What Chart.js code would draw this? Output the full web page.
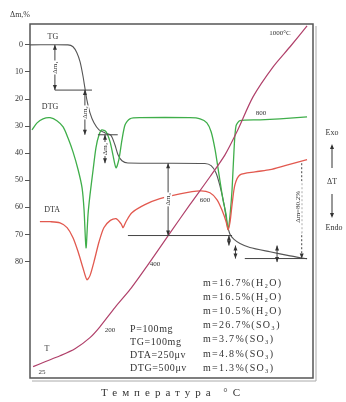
<!DOCTYPE html>
<html>
<head>
<meta charset="utf-8">
<script src="https://cdn.jsdelivr.net/npm/chart.js@4"></script>
<style>
  html, body { margin: 0; padding: 0; background: #fff; }
  canvas { display: block; }
</style>
</head>
<body>
<canvas id="thermo" width="346" height="402"></canvas>
<script>
// Mass loss steps (TG), %
const massLoss = [16.7, 16.5, 10.5, 26.7, 3.7, 4.8, 1.3];
const lossGas = ['H₂O', 'H₂O', 'H₂O', 'SO₃', 'SO₃', 'SO₃', 'SO₃'];
const yTicks = [0, 10, 20, 30, 40, 50, 60, 70, 80];

// TG curve
const tgX = [0, 13.4, 15.2, 16.6, 17.7, 18.7, 19.4, 20.1, 21.2, 22.6, 24.4, 26.5, 28.6, 30.0, 31.1, 32.5, 34.6, 61.8, 64.0, 65.7, 67.1, 68.6, 69.6, 70.7, 72.1, 74.2, 77.7, 84.8, 91.9, 97.9];
const tgY = [0, 0, 0.7, 3.0, 6.3, 11.4, 15.9, 20.3, 25.1, 28.8, 31.4, 32.5, 33.4, 36.9, 40.6, 42.8, 43.6, 43.8, 44.6, 47.2, 52.0, 59.0, 65.7, 70.0, 71.8, 73.3, 74.8, 76.4, 77.9, 79.0];

// DTG curve
const dtgX = [0.7, 2.5, 4.6, 7.1, 9.5, 11.7, 13.4, 15.2, 17.0, 18.4, 19.1, 19.8, 20.5, 21.2, 22.3, 23.3, 24.4, 25.4, 26.9, 28.3, 29.3, 30.4, 31.4, 32.5, 33.6, 35.3, 38.9, 56.5, 60.1, 62.5, 64.0, 65.4, 66.8, 68.2, 69.3, 70.0, 70.7, 71.4, 72.1, 72.8, 74.2, 81.3, 88.3, 97.9];
const dtgY = [31.4, 28.8, 27.3, 26.9, 28.0, 30.3, 34.3, 39.5, 46.1, 52.8, 60.9, 74.9, 62.7, 55.4, 46.1, 38.0, 33.2, 31.4, 32.1, 35.8, 40.6, 45.4, 42.4, 35.1, 29.5, 27.3, 26.9, 26.9, 27.3, 28.8, 32.1, 38.7, 48.0, 57.2, 62.7, 68.3, 62.7, 53.5, 38.7, 29.9, 28.0, 27.7, 27.3, 26.6];

// DTA curve
const dtaX = [3.5, 7.1, 10.6, 13.1, 15.2, 17.0, 18.7, 20.1, 21.2, 22.6, 24.4, 26.1, 28.3, 30.4, 32.2, 32.9, 33.9, 36.0, 40.6, 45.9, 53.0, 60.1, 63.6, 66.1, 67.8, 69.3, 70.0, 70.7, 71.4, 72.4, 74.2, 79.5, 84.8, 90.1, 97.9];
const dtaY = [65.3, 65.3, 65.7, 67.5, 71.2, 76.4, 82.3, 86.7, 85.2, 80.1, 72.7, 67.5, 64.9, 64.2, 66.1, 67.5, 65.3, 62.0, 59.0, 56.8, 55.0, 53.9, 54.6, 57.2, 60.9, 65.3, 68.3, 65.3, 59.0, 51.7, 48.0, 46.9, 46.1, 44.6, 42.4];

// Temperature curve
const tX = [1.1, 5.3, 10.6, 15.9, 21.2, 24.7, 30.0, 35.3, 42.4, 49.5, 56.5, 63.6, 68.9, 73.1, 78.8, 85.9, 91.9, 97.9];
const tY = [118.8, 117.0, 114.8, 112.2, 108.1, 104.1, 97.0, 90.4, 80.1, 69.4, 59.0, 48.7, 40.6, 32.1, 19.2, 8.1, 0.7, -7.0];
const tempLabels = ['25', '200', '400', '600', '800', '1000°C'];

const conditions = ['P=100mg', 'TG=100mg', 'DTA=250μv', 'DTG=500μv'];

// cumulative mass loss after each step
const levels = [];
massLoss.reduce((s, m) => { s += m; levels.push(+s.toFixed(1)); return s; }, 0);

const pts = (xs, ys) => xs.map((v, i) => ({ x: v, y: ys[i] }));
const SERIF = '"Liberation Serif", "DejaVu Serif", serif';

// annotation layout (data units)
const stepLines = [
    { lv: 0, x0: 8.8, x1: 21.9 },
    { lv: 1, x0: 24.0, x1: 31.0 },
    { lv: 3, x0: 34.6, x1: 71.4 },
    { lv: 5, x0: 75.9, x1: 97.9 }
];
const stepArrows = [
    { x: 8.8, from: null, to: 0, label: 'Δm₁' },
    { x: 19.4, from: 0, to: 1, label: 'Δm₂' },
    { x: 26.5, from: 1, to: 2, label: 'Δm₃' },
    { x: 48.8, from: 2, to: 3, label: 'Δm₄' },
    { x: 70.3, from: 3, to: 4, label: '' },
    { x: 72.6, from: 4, to: 5, label: '' },
    { x: 87.3, from: 4, to: 6, label: '' }
];
const tempLabelPos = [[4.2, 120.7], [28.3, 105.2], [44.2, 80.8], [61.8, 57.2], [81.6, 25.1], [88.3, -4.4]];

function arrowHead(ctx, x, y, dir) {
    ctx.beginPath();
    ctx.moveTo(x, y);
    ctx.lineTo(x - 2, y - 5 * dir);
    ctx.lineTo(x + 2, y - 5 * dir);
    ctx.closePath();
    ctx.fill();
}

const annotations = {
    id: 'annotations',
    afterDatasetsDraw(chart) {
        const { ctx, scales: { x, y } } = chart;
        const px = v => x.getPixelForValue(v);
        const py = v => y.getPixelForValue(v);
        const lv = i => (i === null ? 0 : levels[i]);
        ctx.save();
        ctx.strokeStyle = '#444';
        ctx.fillStyle = '#333';
        ctx.lineWidth = 1;

        // step level lines
        stepLines.forEach(s => {
            ctx.beginPath();
            ctx.moveTo(px(s.x0), py(levels[s.lv]));
            ctx.lineTo(px(s.x1), py(levels[s.lv]));
            ctx.stroke();
        });

        // double arrows for each mass loss
        ctx.font = '7px ' + SERIF;
        stepArrows.forEach(s => {
            const X = px(s.x), y0 = py(lv(s.from)), y1 = py(lv(s.to));
            ctx.beginPath();
            ctx.moveTo(X, y0);
            ctx.lineTo(X, y1);
            ctx.stroke();
            arrowHead(ctx, X, y0, -1);
            arrowHead(ctx, X, y1, 1);
            if (s.label) {
                const m = (y0 + y1) / 2;
                ctx.save();
                ctx.translate(X, m);
                ctx.rotate(-Math.PI / 2);
                ctx.fillStyle = '#fff';
                ctx.fillRect(-7, -4, 14, 8);
                ctx.fillStyle = '#333';
                ctx.textAlign = 'center';
                ctx.textBaseline = 'middle';
                ctx.fillText(s.label, 0, 0);
                ctx.restore();
            }
        });

        // total mass loss bracket
        const bx = px(94.6), btop = py(levels[2]), bbot = py(levels[5]);
        ctx.setLineDash([2, 2]);
        ctx.beginPath();
        ctx.moveTo(bx + 4, btop);
        ctx.lineTo(bx + 4, bbot);
        ctx.stroke();
        ctx.setLineDash([]);
        arrowHead(ctx, bx + 4, bbot, 1);
        ctx.save();
        ctx.translate(bx, (btop + bbot) / 2 - 4);
        ctx.rotate(-Math.PI / 2);
        ctx.fillStyle = '#fff';
        ctx.fillRect(-26, -5, 52, 9);
        ctx.fillStyle = '#333';
        ctx.textAlign = 'center';
        ctx.textBaseline = 'middle';
        ctx.fillText('Δm=' + levels[6] + '%', 0, 0);
        ctx.restore();

        // temperature marks
        ctx.font = '7px ' + SERIF;
        ctx.textAlign = 'center';
        ctx.textBaseline = 'middle';
        tempLabels.forEach((t, i) => {
            ctx.fillText(t, px(tempLabelPos[i][0]), py(tempLabelPos[i][1]));
        });

        // curve names
        ctx.font = '8px ' + SERIF;
        ctx.fillText('TG', px(8.1), py(-3));
        ctx.fillText('DTG', px(7.1), py(22.9));
        ctx.fillText('DTA', px(7.8), py(61));
        ctx.fillText('T', px(6.0), py(112.3));
        ctx.restore();
    },
    afterDraw(chart) {
        const { ctx, chartArea: a } = chart;
        ctx.save();
        // frame with a slight shadow on the right and bottom
        ctx.strokeStyle = '#aaa';
        ctx.lineWidth = 1;
        ctx.beginPath();
        ctx.moveTo(a.right + 3, a.top + 2);
        ctx.lineTo(a.right + 3, a.bottom + 3);
        ctx.lineTo(a.left + 2, a.bottom + 3);
        ctx.stroke();
        ctx.strokeStyle = '#555';
        ctx.lineWidth = 1.5;
        ctx.strokeRect(a.left, a.top, a.right - a.left, a.bottom - a.top);

        ctx.fillStyle = '#333';
        ctx.font = '8px ' + SERIF;
        ctx.textBaseline = 'middle';
        ctx.textAlign = 'left';
        ctx.fillText('Δm,%', 10, 15);

        // losses list and run conditions
        ctx.font = '10px ' + SERIF;
        ctx.letterSpacing = '1.3px';
        massLoss.forEach((m, i) => {
            ctx.fillText('m=' + m + '%(' + lossGas[i] + ')', a.left + 173, a.top + 259 + i * 14.2);
        });
        ctx.letterSpacing = '0.6px';
        conditions.forEach((c, i) => {
            ctx.fillText(c, a.left + 100, a.top + 305 + i * 13);
        });
        ctx.letterSpacing = '0px';

        // exo / endo legend on the right
        ctx.textAlign = 'center';
        ctx.font = '8px ' + SERIF;
        const cx = 332;
        ctx.fillText('Exo', cx, 133);
        ctx.fillText('ΔT', cx, 182);
        ctx.fillText('Endo', cx + 2, 228);
        ctx.strokeStyle = '#333';
        ctx.lineWidth = 1;
        ctx.beginPath();
        ctx.moveTo(cx, 168); ctx.lineTo(cx, 146);
        ctx.moveTo(cx, 194); ctx.lineTo(cx, 216);
        ctx.stroke();
        arrowHead(ctx, cx, 144, -1);
        arrowHead(ctx, cx, 218, 1);

        // axis title
        ctx.font = '11px ' + SERIF;
        ctx.letterSpacing = '5px';
        ctx.fillText('Температура °C', 173, 393);
        ctx.restore();
    }
};

const line = (data, color, width) => ({
    data, borderColor: color, borderWidth: width,
    pointRadius: 0, showLine: true, tension: 0.25, fill: false
});

new Chart(document.getElementById('thermo'), {
    type: 'scatter',
    data: {
        datasets: [
            line(pts(tX, tY), '#b0406a', 1.2),
            line(pts(dtaX, dtaY), '#e2594f', 1.3),
            line(pts(dtgX, dtgY), '#3fae4a', 1.3),
            line(pts(tgX, tgY), '#555555', 1.1)
        ]
    },
    options: {
        responsive: false,
        animation: false,
        layout: { padding: { left: 0, top: 24, right: 33, bottom: 24 } },
        plugins: { legend: { display: false }, tooltip: { enabled: false } },
        scales: {
            x: { type: 'linear', min: 0, max: 100, display: false },
            y: {
                type: 'linear', reverse: true, min: -7.7, max: 123,
                afterBuildTicks: s => { s.ticks = yTicks.map(v => ({ value: v })); },
                afterFit: s => { s.width = 30; },
                border: { display: false },
                grid: { drawOnChartArea: false, tickLength: 5, color: '#555' },
                ticks: { color: '#333', padding: 2, font: { size: 8, family: SERIF } }
            }
        }
    },
    plugins: [annotations]
});
</script>
</body>
</html>
